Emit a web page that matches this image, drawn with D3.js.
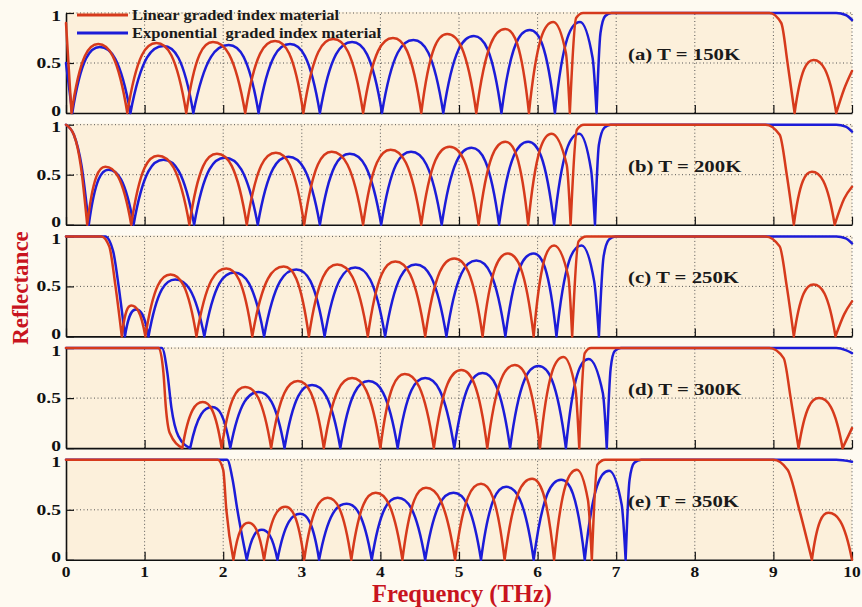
<!DOCTYPE html>
<html>
<head>
<meta charset="utf-8">
<script src="https://cdn.jsdelivr.net/npm/d3@7"></script>
<style>
  html, body { margin: 0; padding: 0; background: #fefaf1; }
  svg { display: block; }
  text { font-family: "Liberation Serif", "Times New Roman", serif; font-weight: bold; }
</style>
</head>
<body>
<svg id="chart" width="862" height="607"></svg>
<script>
// ---- data: reflectance spectra [frequency THz, reflectance] ----
const freqTicks = [0, 1, 2, 3, 4, 5, 6, 7, 8, 9, 10];
const reflTicks = [0, 0.5, 1];
const reflTickLabels = ["0", "0.5", "1"];
const seriesNames = ["Linear graded index material", "Exponential  graded index material"];
const panelLabels = ["(a) T = 150K", "(b) T = 200K", "(c) T = 250K", "(d) T = 300K", "(e) T = 350K"];

const linear150 = [[0,0.9],[0.07,0],[0.41,0.69],[0.78,0],[1.15,0.70],[1.53,0],[1.87,0.71],[2.28,0],[2.66,0.72],[3.02,0],[3.40,0.74],[3.78,0],[4.16,0.75],[4.52,0],[4.85,0.79],[5.22,0],[5.59,0.84],[5.89,0],[6.20,0.91],[6.36,0.6],[6.41,0],[6.49,0.95],[6.58,1],[8.95,1],[9.1,0.9],[9.18,0.5],[9.27,0],[9.51,0.53],[9.80,0],[9.9,0.24],[10,0.42]];
const expo150 = [[0,0.5],[0.08,0],[0.43,0.66],[0.82,0],[1.24,0.67],[1.62,0],[2.07,0.68],[2.45,0],[2.85,0.69],[3.23,0],[3.64,0.71],[4.02,0],[4.42,0.73],[4.80,0],[5.19,0.77],[5.54,0],[5.90,0.83],[6.22,0],[6.54,0.91],[6.70,0.55],[6.75,0],[6.80,0.8],[6.86,0.97],[6.94,1],[9.8,1],[9.92,0.98],[10,0.93]];

const linear200 = [[0,1],[0.1,0.9],[0.19,0.58],[0.27,0],[0.50,0.58],[0.83,0],[1.17,0.69],[1.57,0],[1.92,0.71],[2.30,0],[2.67,0.72],[3.03,0],[3.38,0.73],[3.78,0],[4.13,0.75],[4.52,0],[4.88,0.78],[5.25,0],[5.59,0.83],[5.88,0],[6.18,0.91],[6.37,0.6],[6.42,0],[6.50,0.95],[6.59,1],[8.9,1],[9.08,0.9],[9.17,0.5],[9.26,0],[9.49,0.53],[9.78,0],[9.9,0.26],[10,0.38]];
const expo200 = [[0,1],[0.1,0.9],[0.2,0.58],[0.29,0],[0.54,0.55],[0.86,0],[1.24,0.65],[1.63,0],[2.02,0.67],[2.44,0],[2.83,0.68],[3.23,0],[3.61,0.71],[4.01,0],[4.39,0.73],[4.78,0],[5.16,0.77],[5.51,0],[5.88,0.83],[6.21,0],[6.53,0.91],[6.68,0.55],[6.73,0],[6.78,0.8],[6.85,0.97],[6.93,1],[9.8,1],[9.92,0.98],[10,0.93]];

const linear250 = [[0,1],[0.45,1],[0.55,0.9],[0.63,0.5],[0.71,0],[0.83,0.31],[1.01,0],[1.33,0.62],[1.66,0],[2.04,0.68],[2.37,0],[2.77,0.70],[3.09,0],[3.45,0.72],[3.84,0],[4.19,0.75],[4.57,0],[4.94,0.78],[5.30,0],[5.62,0.83],[5.95,0],[6.21,0.91],[6.39,0.6],[6.44,0],[6.52,0.95],[6.62,1],[8.9,1],[9.08,0.9],[9.17,0.5],[9.26,0],[9.51,0.52],[9.79,0],[9.9,0.22],[10,0.35]];
const expo250 = [[0,1],[0.5,1],[0.6,0.85],[0.67,0.5],[0.75,0],[0.89,0.27],[1.05,0],[1.39,0.57],[1.76,0],[2.14,0.64],[2.52,0],[2.93,0.67],[3.29,0],[3.68,0.69],[4.06,0],[4.45,0.72],[4.84,0],[5.22,0.76],[5.59,0],[5.95,0.83],[6.24,0],[6.56,0.91],[6.72,0.55],[6.78,0],[6.84,0.8],[6.91,0.97],[6.99,1],[9.8,1],[9.92,0.98],[10,0.93]];

const linear300 = [[0,1],[1.18,1],[1.24,0.75],[1.27,0.41],[1.32,0.15],[1.48,0],[1.74,0.46],[1.98,0],[2.28,0.61],[2.61,0],[2.95,0.67],[3.28,0],[3.64,0.70],[4.0,0],[4.31,0.74],[4.68,0],[5.03,0.78],[5.36,0],[5.71,0.83],[6.03,0],[6.33,0.91],[6.48,0.6],[6.53,0],[6.60,0.95],[6.68,1],[8.95,1],[9.13,0.9],[9.22,0.5],[9.32,0],[9.58,0.50],[9.88,0],[10,0.2]];
const expo300 = [[0,1],[1.22,1],[1.29,0.75],[1.34,0.41],[1.43,0.12],[1.58,0],[1.86,0.41],[2.09,0],[2.45,0.56],[2.78,0],[3.13,0.63],[3.49,0],[3.85,0.67],[4.22,0],[4.57,0.70],[4.94,0],[5.30,0.75],[5.65,0],[6.01,0.82],[6.36,0],[6.65,0.89],[6.83,0.55],[6.88,0],[6.93,0.8],[6.98,0.97],[7.06,1],[9.8,1],[9.92,0.98],[10,0.95]];

const linear350 = [[0,1],[1.93,1],[2.0,0.9],[2.04,0.5],[2.13,0],[2.32,0.37],[2.52,0],[2.79,0.53],[3.03,0],[3.33,0.62],[3.63,0],[3.94,0.67],[4.28,0],[4.58,0.72],[4.95,0],[5.28,0.76],[5.58,0],[5.93,0.81],[6.21,0],[6.50,0.90],[6.64,0.6],[6.69,0],[6.76,0.95],[6.86,1],[9.0,1],[9.18,0.9],[9.33,0.5],[9.49,0],[9.70,0.47],[10,0]];
const expo350 = [[0,1],[2.05,1],[2.12,0.8],[2.18,0.5],[2.30,0],[2.49,0.30],[2.69,0],[2.98,0.46],[3.22,0],[3.57,0.56],[3.89,0],[4.22,0.62],[4.57,0],[4.93,0.67],[5.28,0],[5.60,0.73],[5.95,0],[6.30,0.80],[6.60,0],[6.91,0.89],[7.07,0.55],[7.12,0],[7.17,0.8],[7.23,0.97],[7.32,1],[9.8,1],[10,0.98]];

const linearSeries = [linear150, linear200, linear250, linear300, linear350];
const expoSeries = [expo150, expo200, expo250, expo300, expo350];

// ---- layout ----
const W = 862, H = 607;
const plotLeft = 66, plotRight = 852;
const panelTop0 = 13, panelH = 100, panelStep = 111.7;
const redColor = "#d63a1c", blueColor = "#1c1cd8", labelRed = "#c8141e";
const plotBg = "#fcf0db";

const svg = d3.select("#chart");
svg.append("rect").attr("width", W).attr("height", H).attr("fill", "#fefaf1");

const x = d3.scaleLinear().domain([0, 10]).range([plotLeft, plotRight]);

// text with a slight horizontal stretch
function wideText(parent, str, px, py, size, sx, anchor) {
  return parent.append("text")
    .attr("transform", `translate(${px},${py}) scale(${sx},1)`)
    .attr("text-anchor", anchor || "start")
    .style("font-size", size + "px")
    .style("white-space", "pre")
    .text(str);
}

// Monotone cubic curve; where a lobe meets the zero baseline next to a crest,
// the tangent is made steep, giving narrow dips and rounded crests.
function LobeCurve(context, baseY, steep) {
  this._context = context; this._base = baseY; this._steep = steep;
}
LobeCurve.prototype = {
  areaStart() {}, areaEnd() {},
  lineStart() { this._pts = []; },
  point(px, py) { this._pts.push([+px, +py]); },
  lineEnd() {
    const p = this._pts, n = p.length, ctx = this._context;
    if (!n) return;
    ctx.moveTo(p[0][0], p[0][1]);
    if (n === 2) { ctx.lineTo(p[1][0], p[1][1]); return; }
    if (n < 2) return;
    const h = [], s = [];
    for (let i = 0; i < n - 1; i++) {
      h[i] = p[i + 1][0] - p[i][0];
      s[i] = h[i] ? (p[i + 1][1] - p[i][1]) / h[i] : 0;
    }
    const m = new Array(n).fill(0);
    for (let i = 1; i < n - 1; i++) {
      if (s[i - 1] * s[i] <= 0) { m[i] = 0; continue; }
      const pp = (s[i - 1] * h[i] + s[i] * h[i - 1]) / (h[i - 1] + h[i]);
      m[i] = 2 * Math.sign(s[i]) * Math.min(Math.abs(s[i - 1]), Math.abs(s[i]), 0.5 * Math.abs(pp));
    }
    const atBase = yv => Math.abs(yv - this._base) < 0.5;
    m[0] = (atBase(p[0][1]) && m[1] === 0) ? this._steep * s[0] : (3 * s[0] - m[1]) / 2;
    m[n - 1] = (atBase(p[n - 1][1]) && m[n - 2] === 0) ? this._steep * s[n - 2] : (3 * s[n - 2] - m[n - 2]) / 2;
    for (let i = 0; i < n - 1; i++) {
      if (s[i] === 0) { m[i] = 0; m[i + 1] = 0; continue; }
      if (m[i] / s[i] < 0) m[i] = 0;
      if (m[i + 1] / s[i] < 0) m[i + 1] = 0;
      const a = m[i] / s[i], b = m[i + 1] / s[i];
      const r = a * a + b * b;
      if (r > 9) { const t = 3 / Math.sqrt(r); m[i] = t * a * s[i]; m[i + 1] = t * b * s[i]; }
    }
    for (let i = 0; i < n - 1; i++) {
      const d = h[i] / 3;
      ctx.bezierCurveTo(p[i][0] + d, p[i][1] + m[i] * d,
                        p[i + 1][0] - d, p[i + 1][1] - m[i + 1] * d,
                        p[i + 1][0], p[i + 1][1]);
    }
  }
};
const curveLobe = (baseY, steep) => ctx => new LobeCurve(ctx, baseY, steep);

// split a spectrum at its zeros so each lobe is its own piece
function lobePath(points, line) {
  const segs = [];
  let cur = [points[0]];
  for (let i = 1; i < points.length; i++) {
    cur.push(points[i]);
    if (points[i][1] === 0 && i < points.length - 1) {
      segs.push(cur);
      cur = [points[i]];
    }
  }
  if (cur.length > 1) segs.push(cur);
  return segs.map(s => line(s)).join("");
}

panelLabels.forEach((lab, i) => {
  const top = panelTop0 + i * panelStep;
  const y = d3.scaleLinear().domain([0, 1]).range([top + panelH, top]);
  const g = svg.append("g");
  const isLast = i === panelLabels.length - 1;

  g.append("rect").attr("x", plotLeft).attr("y", top - 1)
    .attr("width", plotRight - plotLeft).attr("height", panelH + 1).attr("fill", plotBg);

  // dotted grid
  const grid = g.append("g").attr("stroke", "#555").attr("stroke-width", 1)
    .attr("stroke-dasharray", "1,2.5").attr("fill", "none");
  freqTicks.filter(f => f > 0).forEach(f => {
    grid.append("line").attr("x1", x(f)).attr("x2", x(f)).attr("y1", y(0)).attr("y2", y(1));
  });
  reflTicks.filter(r => r > 0).forEach(r => {
    grid.append("line").attr("x1", x(0)).attr("x2", x(10)).attr("y1", y(r)).attr("y2", y(r));
  });

  // axes: bottom and left only, ticks inward
  const xAxis = d3.axisBottom(x).tickValues(freqTicks).tickSizeInner(-8).tickSizeOuter(0).tickFormat("");
  const xg = g.append("g").attr("transform", `translate(0,${y(0)})`).call(xAxis);
  xg.select(".domain").attr("stroke", "#111").attr("stroke-width", 1.6);
  xg.selectAll(".tick line").attr("stroke", "#111").attr("stroke-width", 1.2);
  xg.selectAll(".tick text").remove();

  const yAxis = d3.axisLeft(y).tickValues(reflTicks).tickSizeInner(-8).tickSizeOuter(0).tickFormat("");
  const yg = g.append("g").attr("transform", `translate(${plotLeft},0)`).call(yAxis);
  yg.select(".domain").attr("stroke", "#111").attr("stroke-width", 1.6);
  yg.selectAll(".tick line").attr("stroke", "#111").attr("stroke-width", 1.2);
  yg.selectAll(".tick text").remove();

  reflTicks.forEach((r, k) => {
    const dy = r === 0 ? 2.5 : (r === 1 ? 7.5 : 5);
    wideText(g, reflTickLabels[k], 61, y(r) + dy, 14.5, 1.35, "end").attr("fill", "#111");
  });

  if (isLast) {
    freqTicks.forEach(f => {
      wideText(g, String(f), x(f), y(0) + 17, 14.5, 1.2, "middle").attr("fill", "#111");
    });
  }

  const line = d3.line().x(d => x(d[0])).y(d => y(d[1])).curve(curveLobe(y(0), 2.6));

  g.append("path").attr("d", lobePath(expoSeries[i], line))
    .attr("fill", "none").attr("stroke", blueColor).attr("stroke-width", 2.5)
    .attr("stroke-linecap", "round").attr("stroke-linejoin", "round");
  g.append("path").attr("d", lobePath(linearSeries[i], line))
    .attr("fill", "none").attr("stroke", redColor).attr("stroke-width", 2.5)
    .attr("stroke-linecap", "round").attr("stroke-linejoin", "round");

  wideText(g, lab, 628, top + 47, 16, 1.3, "start").attr("fill", "#1a1a1a");
});

// legend inside the top panel
const legend = svg.append("g");
[[redColor, 15, 19.5], [blueColor, 33, 38]].forEach(([c, ly, ty], k) => {
  legend.append("line").attr("x1", 77).attr("x2", 128).attr("y1", ly).attr("y2", ly)
    .attr("stroke", c).attr("stroke-width", 3);
  wideText(legend, seriesNames[k], 132, ty, 15, 1.1, "start").attr("fill", "#1a1a1a");
});

// axis titles
svg.append("text").attr("x", 462).attr("y", 602).attr("text-anchor", "middle")
  .style("font-size", "24.5px").attr("fill", labelRed).text("Frequency (THz)");
svg.append("text").attr("transform", "translate(28,288) rotate(-90)").attr("text-anchor", "middle")
  .style("font-size", "23px").attr("fill", labelRed).text("Reflectance");
</script>
</body>
</html>
